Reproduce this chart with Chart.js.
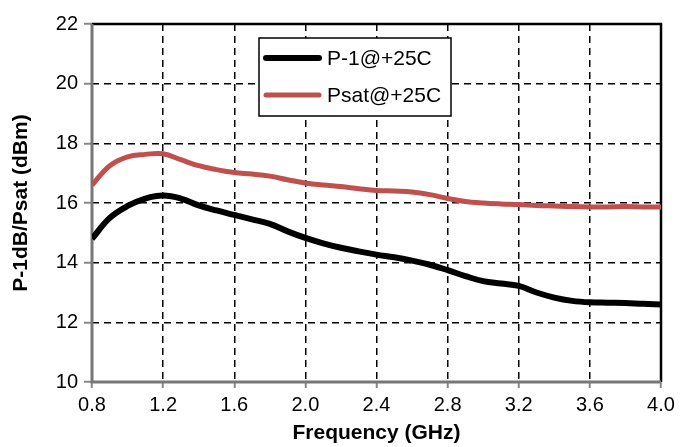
<!DOCTYPE html>
<html>
<head>
<meta charset="utf-8">
<script src="https://cdn.jsdelivr.net/npm/chart.js@4.4.0/dist/chart.umd.min.js"></script>
<style>
  html, body { margin: 0; padding: 0; background: #fff; }
  #wrap { width: 692px; height: 447px; }
</style>
</head>
<body>
<div id="wrap"><canvas id="PowerChart" width="692" height="447"></canvas></div>
<script>
// frequency in GHz
const freq = [0.8, 0.9, 1.0, 1.1, 1.2, 1.3, 1.4, 1.5, 1.6, 1.7, 1.8, 1.9, 2.0, 2.1, 2.2, 2.3, 2.4,
  2.5, 2.6, 2.7, 2.8, 2.9, 3.0, 3.1, 3.2, 3.3, 3.4, 3.5, 3.6, 3.7, 3.8, 3.9, 4.0];
const p1db = [14.8, 15.5, 15.9, 16.15, 16.25, 16.15, 15.92, 15.75, 15.6, 15.45, 15.3, 15.05, 14.83,
  14.65, 14.5, 14.38, 14.27, 14.18, 14.07, 13.93, 13.75, 13.55, 13.38, 13.3, 13.22, 13.0, 12.83,
  12.72, 12.67, 12.66, 12.65, 12.62, 12.6];
const psat = [16.6, 17.25, 17.55, 17.63, 17.65, 17.45, 17.25, 17.12, 17.02, 16.97, 16.9, 16.78, 16.67,
  16.6, 16.55, 16.48, 16.42, 16.4, 16.37, 16.28, 16.15, 16.05, 16.0, 15.97, 15.95, 15.92, 15.9,
  15.88, 15.87, 15.87, 15.88, 15.87, 15.87];
const seriesNames = ['P-1@+25C', 'Psat@+25C'];

const FONT = '"Liberation Sans", Arial, sans-serif';
const toPoints = (ys) => ys.map((y, i) => ({ x: freq[i], y: y }));

// legend box with a border, drawn inside the plot
const boxLegend = {
  id: 'boxLegend',
  afterDraw(chart) {
    const c = chart.ctx, a = chart.chartArea;
    const x = a.left + 167, y = a.top + 14, w = 192, h = 78;
    c.save();
    c.fillStyle = '#fff';
    c.fillRect(x, y, w, h);
    c.strokeStyle = '#000';
    c.lineWidth = 1.5;
    c.strokeRect(x, y, w, h);
    c.font = '21px ' + FONT;
    c.textBaseline = 'middle';
    chart.data.datasets.forEach((ds, i) => {
      const ly = y + 20 + i * 37;
      c.strokeStyle = ds.borderColor;
      c.lineWidth = ds.borderWidth;
      c.lineCap = 'round';
      c.beginPath();
      c.moveTo(x + 7, ly);
      c.lineTo(x + 60, ly);
      c.stroke();
      c.fillStyle = '#000';
      c.fillText(ds.label, x + 68, ly + 1);
    });
    c.restore();
  }
};

// plot frame: black top/right, grey left/bottom
const frameEdges = {
  id: 'frameEdges',
  beforeDatasetsDraw(chart) {
    const c = chart.ctx, a = chart.chartArea;
    c.save();
    c.strokeStyle = '#000';
    c.lineWidth = 2.5;
    c.beginPath();
    c.moveTo(a.left, a.top);
    c.lineTo(a.right, a.top);
    c.lineTo(a.right, a.bottom);
    c.stroke();
    c.strokeStyle = '#777';
    c.lineWidth = 3;
    c.beginPath();
    c.moveTo(a.left, a.top);
    c.lineTo(a.left, a.bottom);
    c.lineTo(a.right, a.bottom);
    c.stroke();
    c.restore();
  }
};

const ctx = document.getElementById('PowerChart');
const myChart = new Chart(ctx, {
  type: 'line',
  data: {
    datasets: [
      {
        label: seriesNames[0],
        data: toPoints(p1db),
        borderColor: '#000000',
        borderWidth: 6,
        pointRadius: 0,
        tension: 0.4
      },
      {
        label: seriesNames[1],
        data: toPoints(psat),
        borderColor: '#c0504d',
        borderWidth: 5,
        pointRadius: 0,
        tension: 0.4
      }
    ]
  },
  options: {
    responsive: false,
    animation: false,
    layout: { padding: { top: 24, right: 31, left: 0, bottom: 0 } },
    plugins: {
      legend: { display: false },
      tooltip: { enabled: false }
    },
    scales: {
      x: {
        type: 'linear',
        min: 0.8,
        max: 4.0,
        ticks: {
          stepSize: 0.4,
          color: '#000',
          font: { family: FONT, size: 20 },
          padding: 5,
          callback: (v) => v.toFixed(1)
        },
        grid: {
          color: '#000',
          lineWidth: 1.5,
          tickLength: 6,
          tickColor: '#888',
          tickBorderDash: [],
          tickWidth: 2
        },
        border: { display: false, dash: [7, 5] },
        title: {
          display: true,
          text: 'Frequency (GHz)',
          color: '#000',
          font: { family: FONT, size: 21, weight: 'bold' },
          padding: { top: 0, bottom: 1 }
        },
        afterFit: (s) => { s.height = 65; }
      },
      y: {
        min: 10,
        max: 22,
        ticks: {
          stepSize: 2,
          color: '#000',
          font: { family: FONT, size: 20 },
          padding: 6
        },
        grid: {
          color: '#000',
          lineWidth: 1.5,
          tickLength: 8,
          tickColor: '#888',
          tickBorderDash: [],
          tickWidth: 2
        },
        border: { display: false, dash: [7, 5] },
        title: {
          display: true,
          text: 'P-1dB/Psat (dBm)',
          color: '#000',
          font: { family: FONT, size: 21, weight: 'bold' },
          padding: { top: 9, bottom: 0 }
        },
        afterFit: (s) => { s.width = 92; }
      }
    }
  },
  plugins: [frameEdges, boxLegend]
});
</script>
</body>
</html>
